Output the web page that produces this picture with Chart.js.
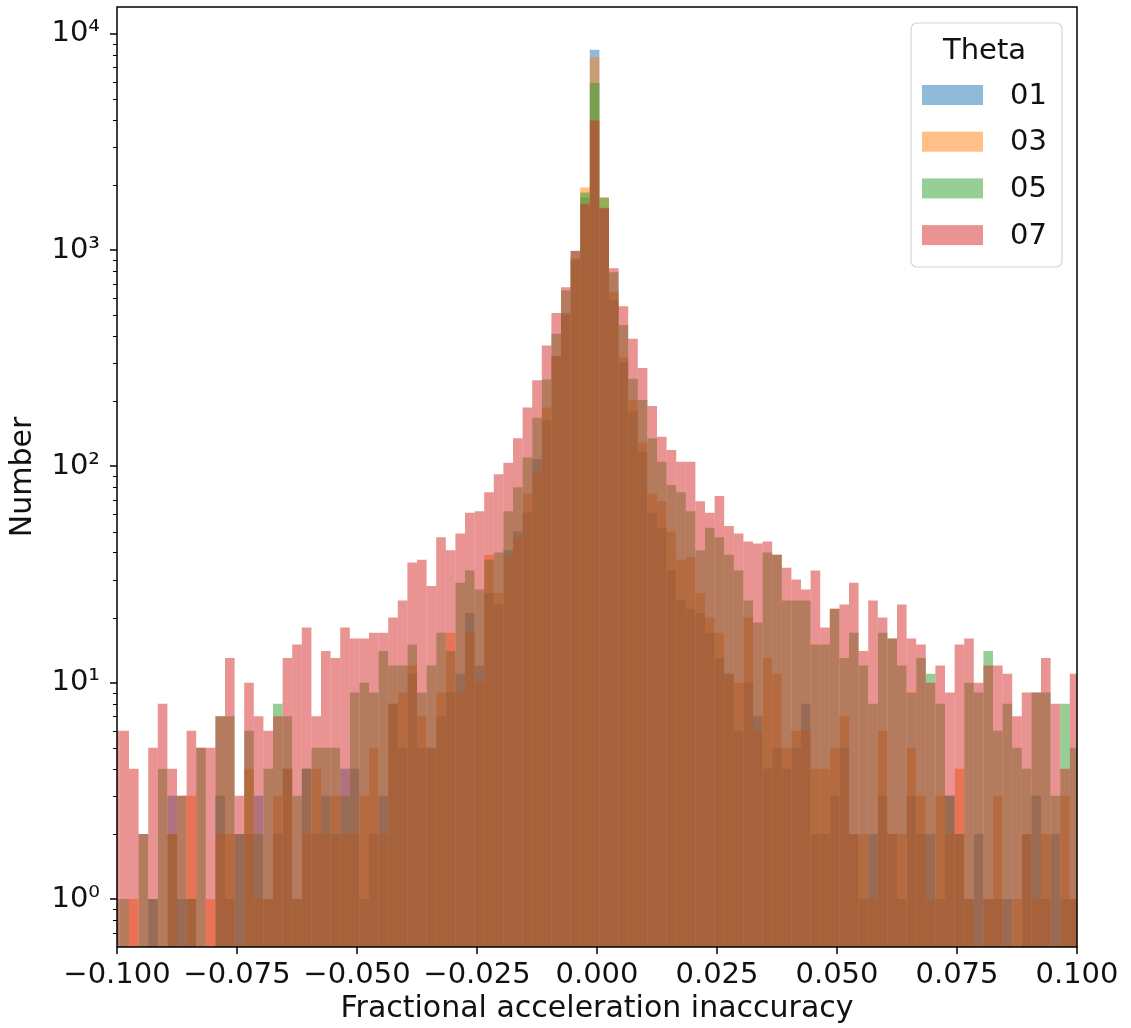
<!DOCTYPE html>
<html>
<head>
<meta charset="utf-8">
<script src="https://cdn.jsdelivr.net/npm/chart.js@4.4.1/dist/chart.umd.min.js"></script>
<style>
  html, body { margin: 0; padding: 0; background: #fff; }
  #wrap { width: 1131px; height: 1028px; position: relative; }
</style>
</head>
<body>
<div id="wrap"><canvas id="hist"></canvas></div>
<script>
// 101 bins of width 0.002; the first and last ones are cut by the axis limits
const binStart = -0.1015;
const binWidth = 0.002;

// counts per bin
const theta01 = [0, 0, 0, 0, 1, 0, 3, 1, 1, 0, 0, 3, 1, 2, 2, 3, 1, 2, 4, 1,
  4, 2, 3, 2, 4, 4, 1, 2, 3, 8, 5, 11, 5, 5, 7, 9, 11, 21, 12, 26,
  23, 41, 50, 61, 108, 163, 324, 510, 900, 1750, 8440, 1570, 584, 303, 180, 117, 61, 52, 33, 24,
  22, 21, 17, 13, 11, 6, 10, 7, 4, 5, 4, 5, 8, 2, 2, 3, 5, 2, 1, 2,
  3, 2, 1, 3, 2, 2, 1, 3, 2, 1, 2, 1, 1, 1, 0, 2, 3, 1, 2, 1, 1];
const theta03 = [0, 0, 1, 0, 0, 0, 2, 0, 3, 0, 1, 2, 2, 0, 4, 1, 1, 3, 4, 1,
  2, 4, 2, 3, 2, 2, 3, 5, 2, 8, 9, 12, 7, 5, 9, 17, 9, 17, 10, 39,
  26, 38, 47, 75, 93, 187, 324, 500, 916, 1946, 7800, 1760, 638, 320, 202, 129, 75, 69, 50, 37,
  38, 26, 20, 17, 11, 10, 20, 6, 13, 11, 5, 6, 6, 4, 4, 5, 7, 2, 2, 1,
  6, 2, 2, 5, 3, 1, 3, 2, 4, 1, 0, 1, 3, 0, 1, 2, 1, 2, 0, 3, 1];
const theta05 = [1, 1, 0, 2, 1, 4, 2, 3, 1, 5, 0, 7, 7, 2, 6, 2, 4, 8, 7, 3,
  4, 5, 5, 5, 3, 9, 10, 9, 14, 12, 12, 15, 9, 12, 17, 14, 29, 33, 27, 37,
  40, 62, 80, 110, 168, 252, 410, 650, 990, 1845, 5930, 1740, 789, 451, 254, 203, 135, 105, 82, 76,
  62, 41, 52, 47, 39, 33, 24, 19, 40, 39, 24, 24, 24, 15, 15, 22, 13, 17, 12, 8,
  17, 16, 12, 9, 13, 11, 8, 3, 2, 10, 9, 14, 6, 8, 5, 4, 9, 9, 3, 8, 5];
const theta07 = [6, 6, 4, 2, 5, 8, 4, 3, 6, 5, 5, 7, 13, 3, 10, 7, 6, 7, 13, 15,
  18, 7, 14, 13, 18, 16, 16, 17, 17, 20, 24, 36, 37, 28, 47, 41, 49, 61, 62, 76,
  92, 104, 135, 187, 250, 362, 512, 673, 993, 1630, 3970, 1560, 824, 550, 389, 285, 190, 137, 119, 105,
  105, 69, 61, 73, 53, 49, 45, 44, 45, 39, 34, 30, 27, 33, 18, 22, 23, 29, 14, 24,
  20, 16, 23, 16, 15, 10, 12, 9, 15, 16, 10, 12, 12, 11, 7, 9, 9, 13, 8, 4, 11];

const seriesLabels = ['01', '03', '05', '07'];
const seriesValues = [theta01, theta03, theta05, theta07];
const seriesColors = ['rgba(31, 119, 180, 0.5)', 'rgba(255, 127, 14, 0.5)', 'rgba(44, 160, 44, 0.5)', 'rgba(214, 39, 40, 0.5)'];

const xTicks = [-0.1, -0.075, -0.05, -0.025, 0, 0.025, 0.05, 0.075, 0.1];
const yTicks = [1, 10, 100, 1000, 10000];
const yMin = 0.62, yMax = 13300;

const sup = { 0: '\u2070', 1: '\u00b9', 2: '\u00b2', 3: '\u00b3', 4: '\u2074' };
const FONT = 'DejaVu Sans';

// frame, tick marks and the legend box (matplotlib look)
const axisDecor = {
  id: 'axisDecor',
  afterDraw(chart) {
    const { ctx, chartArea: a, scales: { x, y } } = chart;
    ctx.save();
    ctx.strokeStyle = '#000';
    const line = (x1, y1, x2, y2) => { ctx.beginPath(); ctx.moveTo(x1, y1); ctx.lineTo(x2, y2); ctx.stroke(); };

    ctx.lineWidth = 1;
    for (let d = -1; d <= 4; d++) {
      for (let m = 2; m <= 9; m++) {
        const v = m * Math.pow(10, d);
        if (v < yMin || v > yMax) continue;
        const py = Math.round(y.getPixelForValue(v)) + 0.5;
        line(a.left - 4, py, a.left, py);
      }
    }
    ctx.lineWidth = 1.5;
    yTicks.forEach(v => {
      const py = Math.round(y.getPixelForValue(v));
      line(a.left - 7, py, a.left, py);
    });
    xTicks.forEach(v => {
      const px = Math.round(x.getPixelForValue(v));
      line(px, a.bottom, px, a.bottom + 7);
    });
    ctx.strokeRect(a.left, a.top, a.right - a.left, a.bottom - a.top);

    // legend
    const bw = 151, bh = 244;
    const bx = a.right - 15 - bw, by = a.top + 16, r = 6;
    ctx.beginPath();
    ctx.moveTo(bx + r, by);
    ctx.arcTo(bx + bw, by, bx + bw, by + bh, r);
    ctx.arcTo(bx + bw, by + bh, bx, by + bh, r);
    ctx.arcTo(bx, by + bh, bx, by, r);
    ctx.arcTo(bx, by, bx + bw, by, r);
    ctx.closePath();
    ctx.fillStyle = 'rgba(255,255,255,0.8)';
    ctx.fill();
    ctx.strokeStyle = '#d6d6d6';
    ctx.lineWidth = 1.2;
    ctx.stroke();

    ctx.fillStyle = '#111';
    ctx.font = '29px "' + FONT + '"';
    ctx.textAlign = 'center';
    ctx.textBaseline = 'middle';
    ctx.fillText('Theta', bx + bw / 2 - 2, by + 28);
    ctx.textAlign = 'left';
    chart.data.datasets.forEach((ds, i) => {
      const cy = by + 72 + i * 46.7;
      ctx.fillStyle = ds.backgroundColor;
      ctx.fillRect(bx + 11, cy - 10, 61, 20);
      ctx.fillStyle = '#111';
      ctx.fillText(ds.label, bx + 99, cy + 1);
    });
    ctx.restore();
  }
};

new Chart(document.getElementById('hist').getContext('2d'), {
  type: 'bar',
  data: {
    datasets: seriesValues.map((vals, k) => ({
      label: seriesLabels[k],
      data: vals.map((v, i) => ({ x: binStart + (i + 0.5) * binWidth, y: v > 0 ? v : null })),
      backgroundColor: seriesColors[k],
      borderWidth: 0,
      inflateAmount: 0,
      grouped: false,
      barPercentage: 1,
      categoryPercentage: 1,
      order: seriesLabels.length - k,
      clip: 0
    }))
  },
  options: {
    responsive: true,
    maintainAspectRatio: false,
    animation: false,
    layout: { padding: { top: 7, right: 54, left: 0, bottom: 0 } },
    plugins: { legend: { display: false }, tooltip: { enabled: false } },
    scales: {
      x: {
        type: 'linear',
        min: -0.1,
        max: 0.1,
        offset: false,
        grid: { display: false, drawTicks: false },
        border: { display: false },
        afterBuildTicks: (s) => { s.ticks = xTicks.map(v => ({ value: v })); },
        afterFit: (s) => { s.height = 81; s.paddingLeft = 0; s.paddingRight = 0; },
        ticks: {
          autoSkip: false,
          maxRotation: 0,
          padding: 11,
          color: '#111',
          font: { family: FONT, size: 29 },
          callback: (v) => (v < -1e-9 ? '\u2212' + Math.abs(v).toFixed(3) : Math.abs(v).toFixed(3))
        },
        title: {
          display: true,
          text: 'Fractional acceleration inaccuracy',
          color: '#111',
          font: { family: FONT, size: 30 },
          padding: { top: 0, bottom: 1 }
        }
      },
      y: {
        type: 'logarithmic',
        min: yMin,
        max: yMax,
        grid: { display: false, drawTicks: false },
        border: { display: false },
        afterBuildTicks: (s) => { s.ticks = yTicks.map(v => ({ value: v })); },
        afterFit: (s) => { s.width = 117; s.paddingTop = 0; s.paddingBottom = 0; },
        ticks: {
          autoSkip: false,
          padding: 17,
          color: '#111',
          font: { family: FONT, size: 29 },
          callback: (v) => '10' + sup[Math.round(Math.log10(v))]
        },
        title: {
          display: true,
          text: 'Number',
          color: '#111',
          font: { family: FONT, size: 30 },
          padding: { top: 5, bottom: 0 }
        }
      }
    }
  },
  plugins: [axisDecor]
});
</script>
</body>
</html>
